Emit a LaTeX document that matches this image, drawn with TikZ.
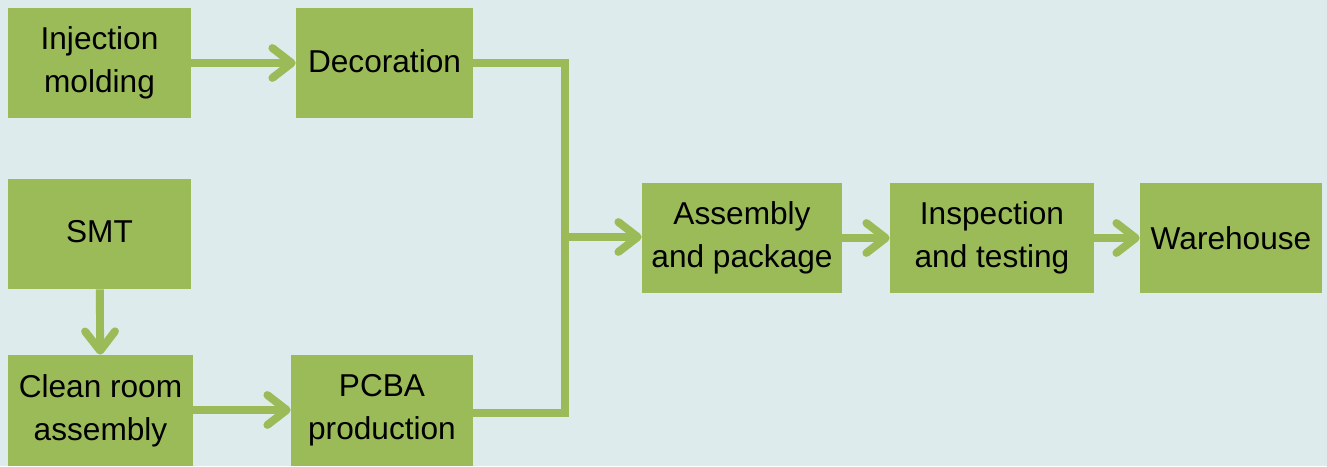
\documentclass[tikz,border=0pt]{standalone}
\usepackage{fontspec}
\setmainfont{Liberation Sans}
\usepackage{xcolor}
\usetikzlibrary{arrows.meta}

\definecolor{boxgreen}{HTML}{9BBB59}
\definecolor{paper}{HTML}{DDEBEC}

\tikzset{
  box/.style={fill=boxgreen, inner sep=0pt, align=center,
    minimum height=2.2cm, font=\fontsize{18}{24.4}\selectfont},
  flow/.style={draw=boxgreen, line width=4.5pt, ->},
  >={Straight Barb[length=11pt, width=17pt, round]}
}

\begin{document}
\begin{tikzpicture}[x=0.02cm, y=-0.02cm]
\fill[paper] (0,0) rectangle (1327,466);
\useasboundingbox (0,0) rectangle (1327,466);
%
\node[box, minimum width=3.66cm] (inj) at (99.5,63) {Injection\\molding};
\node[box, minimum width=3.54cm] (deco) at (384.5,63) {\raisebox{2pt}{Decoration}};
\node[box, minimum width=3.66cm] (smt) at (99.5,234) {\raisebox{3pt}{SMT}};
\node[box, minimum width=3.70cm, minimum height=2.22cm] (clean) at (100.5,410.5) {Clean room\\assembly};
\node[box, minimum width=3.64cm, minimum height=2.22cm] (pcba) at (382,410.5) {PCBA\\production};
%
\node[box, minimum width=4.00cm] (asm) at (742,238) {Assembly\\and package};
\node[box, minimum width=4.08cm] (insp) at (992,238) {Inspection\\and testing};
\node[box, minimum width=3.64cm] (ware) at (1231,238) {Warehouse};
%
\coordinate (jt) at (565,63);
\coordinate (jm) at (565,237);
\coordinate (jb) at (565,413);
%
\draw[flow] (inj) -- (deco);
\draw[flow] (smt) -- (clean);
\draw[flow] (clean.east |- 0,410) -- (pcba.west |- 0,410);
\draw[flow, -, line join=miter] (deco.east) -- (jt) -- (jb) -- (pcba.east |- jb);
\draw[flow] (jm) -- (asm.west |- jm);
\draw[flow] (asm) -- (insp);
\draw[flow] (insp) -- (ware);
\end{tikzpicture}
\end{document}
